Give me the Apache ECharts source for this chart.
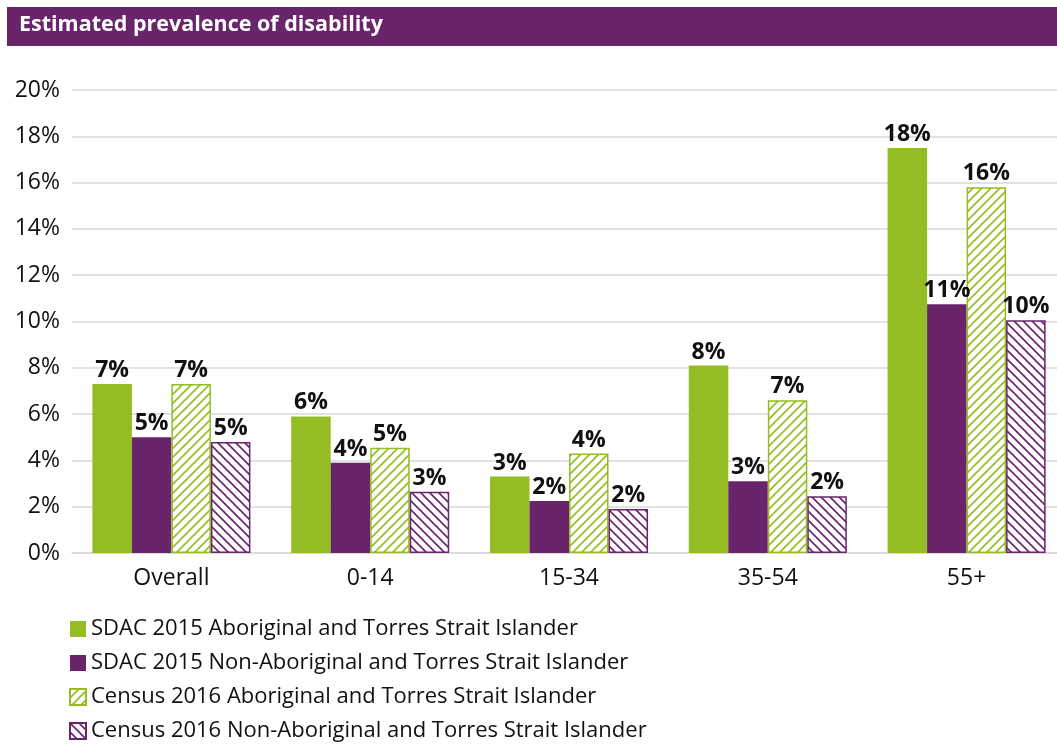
<!DOCTYPE html>
<html>
<head>
<meta charset="utf-8">
<script src="https://cdn.jsdelivr.net/npm/echarts@6.0.0/dist/echarts.min.js"></script>
<style>
  html, body { margin: 0; padding: 0; background: #fff; }
  #main { width: 1057px; height: 745px; }
</style>
</head>
<body>
<div id="main"></div>
<script>
var categories = ['Overall', '0-14', '15-34', '35-54', '55+'];
var sdacAboriginal = [7.3, 5.9, 3.3, 8.1, 17.5];
var sdacNonAboriginal = [5.0, 3.9, 2.25, 3.1, 10.75];
var censusAboriginal = [7.3, 4.55, 4.3, 6.6, 15.8];
var censusNonAboriginal = [4.8, 2.65, 1.9, 2.45, 10.05];
var seriesNames = [
  'SDAC 2015 Aboriginal and Torres Strait Islander',
  'SDAC 2015 Non-Aboriginal and Torres Strait Islander',
  'Census 2016 Aboriginal and Torres Strait Islander',
  'Census 2016 Non-Aboriginal and Torres Strait Islander'
];

var GREEN = '#93bd22';
var PURPLE = '#6a246b';
var FONT = 'Open Sans';

// diagonal hatch tile
function hatch(color, forward) {
  var s = 9;
  var c = document.createElement('canvas');
  c.width = s; c.height = s;
  var ctx = c.getContext('2d');
  ctx.fillStyle = '#fff';
  ctx.fillRect(0, 0, s, s);
  ctx.strokeStyle = color;
  ctx.lineWidth = 1.6;
  ctx.beginPath();
  if (forward) {
    ctx.moveTo(-1, s + 1); ctx.lineTo(s + 1, -1);
    ctx.moveTo(-1, 1); ctx.lineTo(1, -1);
    ctx.moveTo(s - 1, s + 1); ctx.lineTo(s + 1, s - 1);
  } else {
    ctx.moveTo(-1, -1); ctx.lineTo(s + 1, s + 1);
    ctx.moveTo(s - 1, -1); ctx.lineTo(s + 1, 1);
    ctx.moveTo(-1, s - 1); ctx.lineTo(1, s + 1);
  }
  ctx.stroke();
  return { image: c, repeat: 'repeat' };
}

var labelCfg = {
  show: true,
  position: 'top',
  distance: 2,
  color: '#111',
  fontFamily: FONT,
  fontWeight: 'bold',
  fontSize: 23,
  formatter: function (p) { return Math.round(p.value) + '%'; }
};

var myChart = echarts.init(document.getElementById('main'));

var option = {
  animation: false,
  textStyle: { fontFamily: FONT },
  graphic: [
    { type: 'rect', shape: { x: 7, y: 7, width: 1060, height: 39 }, style: { fill: PURPLE } },
    { type: 'text', x: 19, y: 14, style: { text: 'Estimated prevalence of disability', fill: '#fff', font: 'bold 21.5px "Open Sans"' } }
  ],
  legend: {
    orient: 'vertical',
    left: 69,
    top: 618,
    padding: 0,
    itemWidth: 16,
    itemHeight: 16,
    itemGap: 12,
    icon: 'rect',
    textStyle: { fontSize: 22, color: '#111', fontFamily: FONT },
    data: seriesNames
  },
  grid: { left: 72, width: 994, top: 90, bottom: 192, outerBoundsMode: 'none' },
  xAxis: {
    type: 'category',
    data: categories,
    axisTick: { show: false },
    axisLine: { lineStyle: { color: '#d9d9d9', width: 1.5 } },
    axisLabel: { fontSize: 23, color: '#111', margin: 14, fontFamily: FONT }
  },
  yAxis: {
    type: 'value',
    min: 0,
    max: 20,
    interval: 2,
    axisLine: { show: false },
    axisTick: { show: false },
    splitLine: { lineStyle: { color: '#d9d9d9', width: 1.5 } },
    axisLabel: { fontSize: 23, color: '#111', margin: 12, fontFamily: FONT, formatter: '{value}%' }
  },
  series: [
    {
      name: seriesNames[0], type: 'bar', data: sdacAboriginal,
      barGap: '0%', barCategoryGap: '20.5%',
      itemStyle: { color: GREEN },
      label: labelCfg
    },
    {
      name: seriesNames[1], type: 'bar', data: sdacNonAboriginal,
      itemStyle: { color: PURPLE },
      label: labelCfg
    },
    {
      name: seriesNames[2], type: 'bar', data: censusAboriginal,
      itemStyle: { color: hatch(GREEN, true), borderColor: GREEN, borderWidth: 1.5 },
      label: labelCfg
    },
    {
      name: seriesNames[3], type: 'bar', data: censusNonAboriginal,
      itemStyle: { color: hatch(PURPLE, false), borderColor: PURPLE, borderWidth: 1.5 },
      label: labelCfg
    }
  ]
};

myChart.setOption(option);
</script>
</body>
</html>
